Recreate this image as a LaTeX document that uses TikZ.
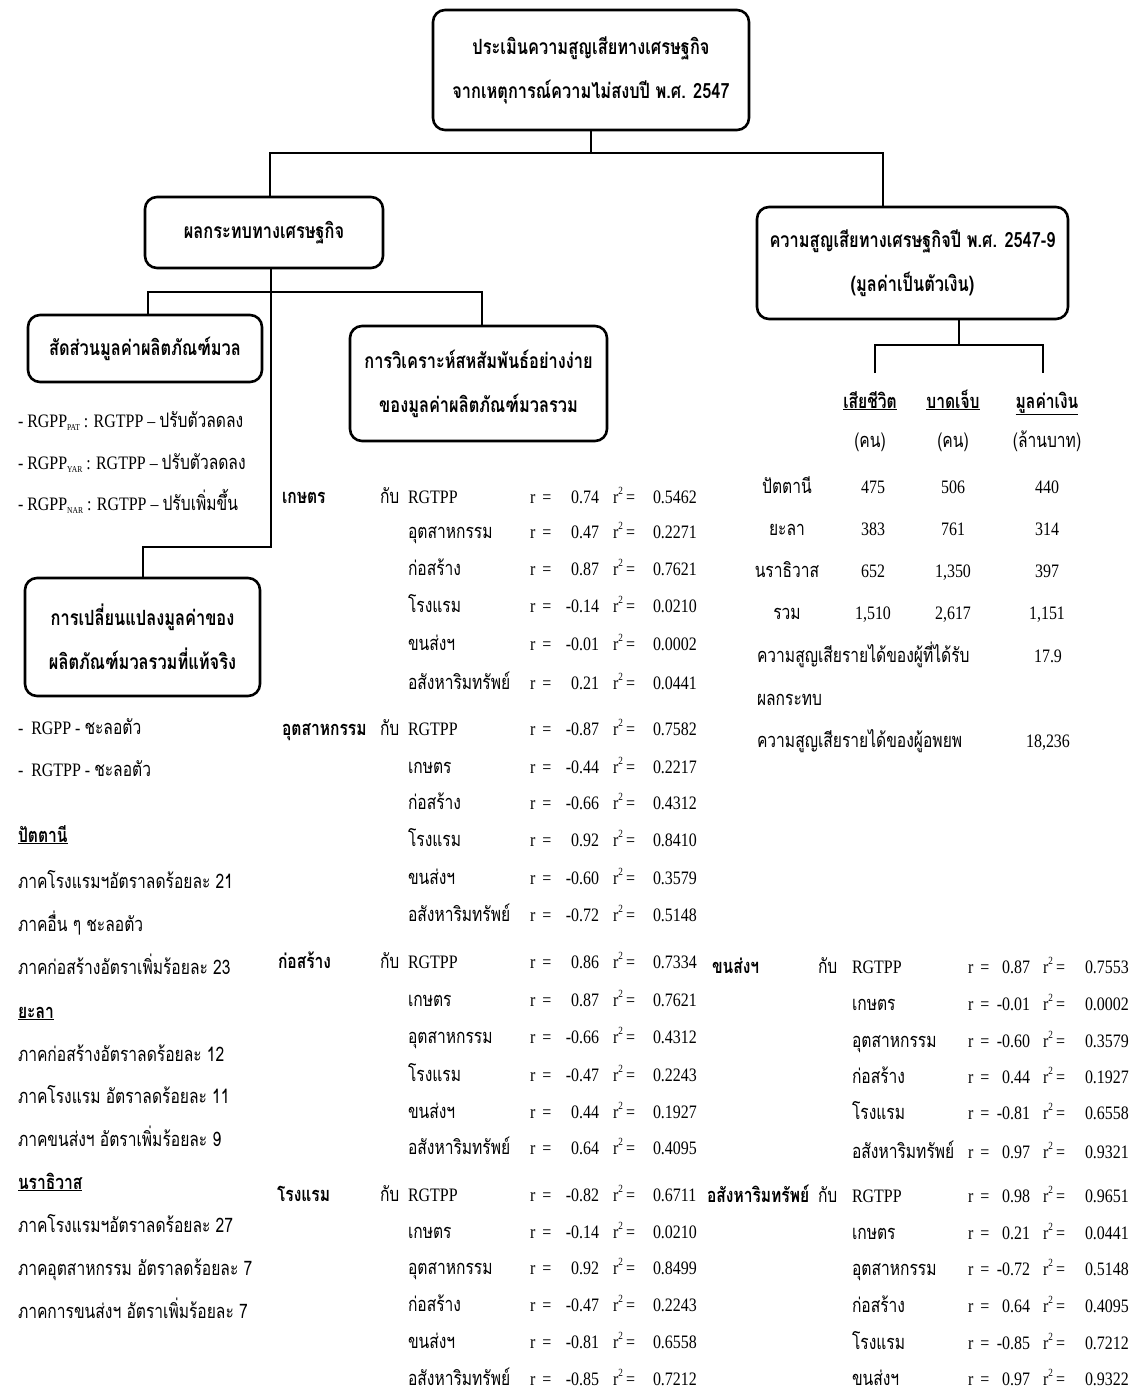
\documentclass[tikz,border=0pt]{standalone}
\usepackage{fontspec}
\setmainfont[FakeStretch=0.84]{Liberation Serif}
\newfontfamily\thaifont[Script=Thai,FakeStretch=0.78]{Loma}
\newcommand\tht[1]{{\thaifont\fontsize{20}{22}\selectfont #1}}
\newcommand\tbf[1]{{\thaifont\bfseries\fontsize{20}{22}\selectfont #1}}
\newcommand\sbt[1]{\raisebox{-0.45ex}{\fontsize{9}{9}\selectfont #1}}
\newcommand\rsq{r\raisebox{1.0ex}{\fontsize{11}{11}\selectfont 2}\,=}
\tikzset{
  txt/.style={inner sep=0pt, outer sep=0pt, font=\fontsize{19}{21}\selectfont},
  box/.style={draw, line width=2.6pt, rounded corners=12pt, align=center, inner sep=0pt,
     font=\thaifont\bfseries\fontsize{21}{44}\selectfont},
  conn/.style={line width=1.8pt}
}
\newcommand\setcols[5]{\def\cxi{#1}\def\cxr{#2}\def\cxv{#3}\def\cxq{#4}\def\cxw{#5}}
\newcommand\crow[5]{%
  \node[txt,anchor=base west] (#1i) at (\cxi,#2) {#3};
  \node[txt,anchor=base west] (#1r) at (\cxr,#2) {r\ \,=};
  \node[txt,anchor=base east] (#1v) at (\cxv,#2) {#4};
  \node[txt,anchor=base west] (#1q) at (\cxq,#2) {\rsq};
  \node[txt,anchor=base west] (#1w) at (\cxw,#2) {#5};}
\begin{document}
\begin{tikzpicture}[x=1pt,y=-1pt]
\useasboundingbox (0,0) rectangle (1136,1392);
% boxes
\node[box, minimum width=316pt, minimum height=120pt] (top) at (591,70)
  {ประเมินความสูญเสียทางเศรษฐกิจ\\จากเหตุการณ์ความไม่สงบปี พ.ศ. 2547};
\node[box, minimum width=238pt, minimum height=71pt] (econ) at (264,232.5)
  {ผลกระทบทางเศรษฐกิจ};
\node[box, minimum width=311pt, minimum height=112pt] (loss) at (912.5,263)
  {ความสูญเสียทางเศรษฐกิจปี พ.ศ. 2547-9\\(มูลค่าเป็นตัวเงิน)};
\node[box, minimum width=234pt, minimum height=67pt] (share) at (145,348.5)
  {สัดส่วนมูลค่าผลิตภัณฑ์มวล};
\node[box, minimum width=257pt, minimum height=115pt] (corr) at (478.5,383.5)
  {การวิเคราะห์สหสัมพันธ์อย่างง่าย\\ของมูลค่าผลิตภัณฑ์มวลรวม};
\node[box, minimum width=235pt, minimum height=118pt] (change) at (142.5,637)
  {การเปลี่ยนแปลงมูลค่าของ\\ผลิตภัณฑ์มวลรวมที่แท้จริง};
% connectors
\coordinate (hL) at (270,153);
\coordinate (hR) at (883,153);
\draw[conn] (top.south) -- (top.south |- hL);
\draw[conn] (hL |- econ.north) -- (hL) -- (hR) -- (hR |- loss.north);
\coordinate (e0) at (271,547);
\coordinate (e1) at (143,547);
\draw[conn] (e0 |- econ.south) -- (e0) -- (e1) -- (e1 |- change.north);
\coordinate (b1) at (148,292);
\coordinate (b2) at (482,292);
\draw[conn] (b1 |- share.north) -- (b1) -- (b2) -- (b2 |- corr.north);
\coordinate (r0) at (959,345);
\coordinate (rl) at (875,345);
\coordinate (rr) at (1043,345);
\coordinate (rlend) at (875,373);
\coordinate (rrend) at (1043,373);
\draw[conn] (r0 |- loss.south) -- (r0);
\draw[conn] (rlend) -- (rl) -- (rr) -- (rrend);
% left list
\node[txt,anchor=base west] (l1) at (18,427) {- RGPP\sbt{PAT} : RGTPP – \tht{ปรับตัวลดลง}};
\node[txt,anchor=base west] (l2) at (18,469) {- RGPP\sbt{YAR} : RGTPP – \tht{ปรับตัวลดลง}};
\node[txt,anchor=base west] (l3) at (18,510) {- RGPP\sbt{NAR} : RGTPP – \tht{ปรับเพิ่มขึ้น}};
\node[txt,anchor=base west] (l4) at (18,734) {-\ \ RGPP - \tht{ชะลอตัว}};
\node[txt,anchor=base west] (l5) at (18,776) {-\ \ RGTPP - \tht{ชะลอตัว}};
\node[txt,anchor=base west] (p1) at (18,842) {\underline{\tbf{ปัตตานี}}};
\node[txt,anchor=base west] (p2) at (18,888) {\tht{ภาคโรงแรมฯอัตราลดร้อยละ 21}};
\node[txt,anchor=base west] (p3) at (18,931) {\tht{ภาคอื่น ๆ ชะลอตัว}};
\node[txt,anchor=base west] (p4) at (18,974) {\tht{ภาคก่อสร้างอัตราเพิ่มร้อยละ 23}};
\node[txt,anchor=base west] (y1) at (18,1018) {\underline{\tbf{ยะลา}}};
\node[txt,anchor=base west] (y2) at (18,1061) {\tht{ภาคก่อสร้างอัตราลดร้อยละ 12}};
\node[txt,anchor=base west] (y3) at (18,1103) {\tht{ภาคโรงแรม อัตราลดร้อยละ 11}};
\node[txt,anchor=base west] (y4) at (18,1146) {\tht{ภาคขนส่งฯ อัตราเพิ่มร้อยละ 9}};
\node[txt,anchor=base west] (n1) at (18,1189) {\underline{\tbf{นราธิวาส}}};
\node[txt,anchor=base west] (n2) at (18,1232) {\tht{ภาคโรงแรมฯอัตราลดร้อยละ 27}};
\node[txt,anchor=base west] (n3) at (18,1275) {\tht{ภาคอุตสาหกรรม อัตราลดร้อยละ 7}};
\node[txt,anchor=base west] (n4) at (18,1318) {\tht{ภาคการขนส่งฯ อัตราเพิ่มร้อยละ 7}};
% right table
\node[txt,anchor=base] (h1) at (870,408) {\underline{\tbf{เสียชีวิต}}};
\node[txt,anchor=base] (h2) at (953,408) {\underline{\tbf{บาดเจ็บ}}};
\node[txt,anchor=base] (h3) at (1047,408) {\underline{\tbf{มูลค่าเงิน}}};
\node[txt,anchor=base] (u1) at (870,447) {\tht{(คน)}};
\node[txt,anchor=base] (u2) at (953,447) {\tht{(คน)}};
\node[txt,anchor=base] (u3) at (1047,447) {\tht{(ล้านบาท)}};
\node[txt,anchor=base] (t1a) at (787,493) {\tht{ปัตตานี}};
\node[txt,anchor=base] (t1b) at (873,493) {475};
\node[txt,anchor=base] (t1c) at (953,493) {506};
\node[txt,anchor=base] (t1d) at (1047,493) {440};
\node[txt,anchor=base] (t2a) at (787,535) {\tht{ยะลา}};
\node[txt,anchor=base] (t2b) at (873,535) {383};
\node[txt,anchor=base] (t2c) at (953,535) {761};
\node[txt,anchor=base] (t2d) at (1047,535) {314};
\node[txt,anchor=base] (t3a) at (787,577) {\tht{นราธิวาส}};
\node[txt,anchor=base] (t3b) at (873,577) {652};
\node[txt,anchor=base] (t3c) at (953,577) {1,350};
\node[txt,anchor=base] (t3d) at (1047,577) {397};
\node[txt,anchor=base] (t4a) at (787,619) {\tht{รวม}};
\node[txt,anchor=base] (t4b) at (873,619) {1,510};
\node[txt,anchor=base] (t4c) at (953,619) {2,617};
\node[txt,anchor=base] (t4d) at (1047,619) {1,151};
\node[txt,anchor=base west] (t5a) at (757,662) {\tht{ความสูญเสียรายได้ของผู้ที่ได้รับ}};
\node[txt,anchor=base] (t5d) at (1048,662) {17.9};
\node[txt,anchor=base west] (t6a) at (757,705) {\tht{ผลกระทบ}};
\node[txt,anchor=base west] (t7a) at (757,747) {\tht{ความสูญเสียรายได้ของผู้อพยพ}};
\node[txt,anchor=base] (t7d) at (1048,747) {18,236};
% correlation blocks, left
\setcols{408}{530}{599}{613}{653}
\node[txt,anchor=base west] (s1) at (282,503) {\tbf{เกษตร}};
\node[txt,anchor=base west] (k1) at (380,503) {\tht{กับ}};
\crow{a1}{503}{RGTPP}{0.74}{0.5462}
\crow{a2}{538}{\tht{อุตสาหกรรม}}{0.47}{0.2271}
\crow{a3}{575}{\tht{ก่อสร้าง}}{0.87}{0.7621}
\crow{a4}{612}{\tht{โรงแรม}}{-0.14}{0.0210}
\crow{a5}{650}{\tht{ขนส่งฯ}}{-0.01}{0.0002}
\crow{a6}{689}{\tht{อสังหาริมทรัพย์}}{0.21}{0.0441}
\node[txt,anchor=base west] (s2) at (282,735) {\tbf{อุตสาหกรรม}};
\node[txt,anchor=base west] (k2) at (380,735) {\tht{กับ}};
\crow{b1}{735}{RGTPP}{-0.87}{0.7582}
\crow{b2}{773}{\tht{เกษตร}}{-0.44}{0.2217}
\crow{b3}{809}{\tht{ก่อสร้าง}}{-0.66}{0.4312}
\crow{b4}{846}{\tht{โรงแรม}}{0.92}{0.8410}
\crow{b5}{884}{\tht{ขนส่งฯ}}{-0.60}{0.3579}
\crow{b6}{921}{\tht{อสังหาริมทรัพย์}}{-0.72}{0.5148}
\node[txt,anchor=base west] (s3) at (278,968) {\tbf{ก่อสร้าง}};
\node[txt,anchor=base west] (k3) at (380,968) {\tht{กับ}};
\crow{c1}{968}{RGTPP}{0.86}{0.7334}
\crow{c2}{1006}{\tht{เกษตร}}{0.87}{0.7621}
\crow{c3}{1043}{\tht{อุตสาหกรรม}}{-0.66}{0.4312}
\crow{c4}{1081}{\tht{โรงแรม}}{-0.47}{0.2243}
\crow{c5}{1118}{\tht{ขนส่งฯ}}{0.44}{0.1927}
\crow{c6}{1154}{\tht{อสังหาริมทรัพย์}}{0.64}{0.4095}
\node[txt,anchor=base west] (s4) at (277,1201) {\tbf{โรงแรม}};
\node[txt,anchor=base west] (k4) at (380,1201) {\tht{กับ}};
\crow{d1}{1201}{RGTPP}{-0.82}{0.6711}
\crow{d2}{1238}{\tht{เกษตร}}{-0.14}{0.0210}
\crow{d3}{1274}{\tht{อุตสาหกรรม}}{0.92}{0.8499}
\crow{d4}{1311}{\tht{ก่อสร้าง}}{-0.47}{0.2243}
\crow{d5}{1348}{\tht{ขนส่งฯ}}{-0.81}{0.6558}
\crow{d6}{1385}{\tht{อสังหาริมทรัพย์}}{-0.85}{0.7212}
% correlation blocks, right
\setcols{852}{968}{1030}{1043}{1085}
\node[txt,anchor=base west] (s5) at (712,973) {\tbf{ขนส่งฯ}};
\node[txt,anchor=base west] (k5) at (818,973) {\tht{กับ}};
\crow{e1}{973}{RGTPP}{0.87}{0.7553}
\crow{e2}{1010}{\tht{เกษตร}}{-0.01}{0.0002}
\crow{e3}{1047}{\tht{อุตสาหกรรม}}{-0.60}{0.3579}
\crow{e4}{1083}{\tht{ก่อสร้าง}}{0.44}{0.1927}
\crow{e5}{1119}{\tht{โรงแรม}}{-0.81}{0.6558}
\crow{e6}{1158}{\tht{อสังหาริมทรัพย์}}{0.97}{0.9321}
\node[txt,anchor=base west] (s6) at (707,1202) {\tbf{อสังหาริมทรัพย์}};
\node[txt,anchor=base west] (k6) at (818,1202) {\tht{กับ}};
\crow{f1}{1202}{RGTPP}{0.98}{0.9651}
\crow{f2}{1239}{\tht{เกษตร}}{0.21}{0.0441}
\crow{f3}{1275}{\tht{อุตสาหกรรม}}{-0.72}{0.5148}
\crow{f4}{1312}{\tht{ก่อสร้าง}}{0.64}{0.4095}
\crow{f5}{1349}{\tht{โรงแรม}}{-0.85}{0.7212}
\crow{f6}{1385}{\tht{ขนส่งฯ}}{0.97}{0.9322}
\end{tikzpicture}
\end{document}
